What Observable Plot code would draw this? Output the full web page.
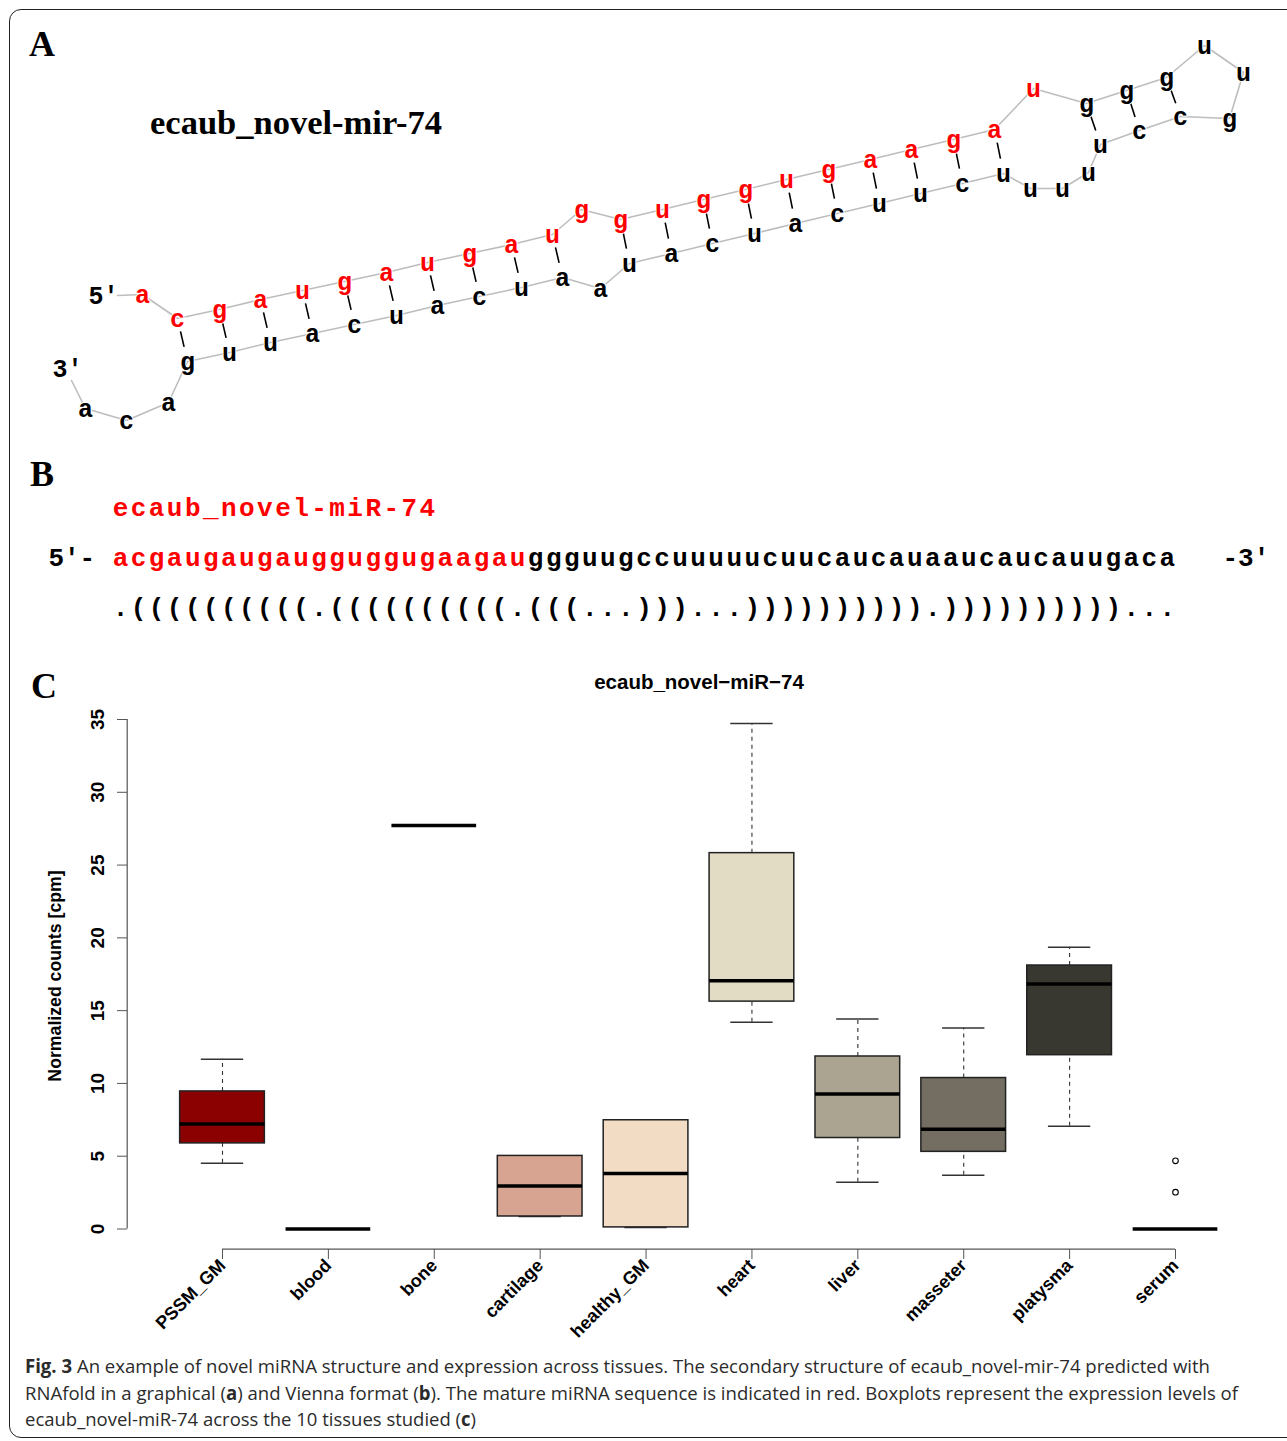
<!DOCTYPE html>
<html><head><meta charset="utf-8">
<script src="https://cdn.jsdelivr.net/npm/d3@7"></script>
<script src="https://cdn.jsdelivr.net/npm/@observablehq/plot@0.6"></script>
<style>
body{margin:0;background:#fff;}
#page{position:relative;width:1287px;height:1441px;overflow:hidden;background:#fff;}
#frame{position:absolute;left:9px;top:9px;width:1320px;height:1429px;border:1.5px solid #222;border-radius:12px;box-sizing:border-box;}
.panel{position:absolute;left:0;}
.lab{position:absolute;font-family:"Liberation Serif","Times New Roman",serif;font-weight:bold;font-size:36px;color:#000;line-height:1;}
#titleA{position:absolute;left:150px;top:105px;font-family:"Liberation Serif","Times New Roman",serif;font-weight:bold;font-size:34.5px;line-height:1;color:#000;}
#caption{position:absolute;left:25px;top:1353px;font-family:"Open Sans",sans-serif;font-size:19px;color:#2b2b2b;line-height:26.5px;}
#caption div{white-space:nowrap;transform-origin:0 0;width:max-content;}
</style></head><body>
<div id="page">
  <div id="frame"></div>
  <div id="panelA" class="panel" style="top:0"></div>
  <div id="panelB" class="panel" style="top:480px"></div>
  <div id="panelC" class="panel" style="top:640px"></div>
  <div class="lab" style="left:29px;top:26px">A</div>
  <div class="lab" style="left:30px;top:456px">B</div>
  <div class="lab" style="left:31px;top:668px">C</div>
  <div id="titleA">ecaub_novel-mir-74</div>
  <div id="caption">
    <div id="cap1"><b>Fig. 3</b> An example of novel miRNA structure and expression across tissues. The secondary structure of ecaub_novel-mir-74 predicted with</div>
    <div id="cap2">RNAfold in a graphical (<b>a</b>) and Vienna format (<b>b</b>). The mature miRNA sequence is indicated in red. Boxplots represent the expression levels of</div>
    <div id="cap3">ecaub_novel-miR-74 across the 10 tissues studied (<b>c</b>)</div>
  </div>
</div>
<script>
// ---------------- DATA ----------------
const precursorName = "ecaub_novel-mir-74";
const matureName = "ecaub_novel-miR-74";
const sequence = "acgaugaugaugguggugaagau" + "ggguugccuuuuucuucaucauaaucaucauugaca";
const matureLength = 23;
const structure = "." + "((((((((((" + "." + "((((((((((" + "." + "(((...)))" + "..." + "))))))))))" + "." + "))))))))))" + "...";
const fivePrimeLabel = "5'-";
const threePrimeLabel = "-3'";

// RNAfold drawing layout (nucleotide positions)
const ntX = [142,177,219,260,302,344,386,427,469,511,552,581,620,662,703,745,786,828,870,911,953,994,1033,1086,1126,1166,1204,1243,1229,1180,1139,1100,1088,1062,1030,1003,962,920,879,837,795,754,712,671,629,600,562,521,479,437,396,354,312,270,229,187,168,126,85];
const ntY = [294,318,309,299,290,281,272,262,253,244,234,209,219,209,199,189,179,169,159,149,139,129,88,103,90,77,45,72,118,116,130,144,172,188,188,173,183,193,203,213,223,233,243,253,263,288,277,287,296,305,315,324,333,342,352,361,402,420,408];
const endLabels = ["5'", "3'"];
const endLabelX = [103, 67];
const endLabelY = [295, 368];

// Boxplot statistics (cpm)
const tissues = ["PSSM_GM","blood","bone","cartilage","healthy_GM","heart","liver","masseter","platysma","serum"];
const tissueColors = ["#8B0000","#B5524A","#C98B78","#D6A491","#F2DCC3","#E1DCC3","#AAA490","#736E61","#393830","#1E1E1A"];
const whiskerLow  = [4.52, 0, 27.72, 0.86, 0.11, 14.2, 3.22, 3.70, 7.05, 0];
const q1          = [5.88, 0, 27.72, 0.86, 0.11, 15.62, 6.25, 5.30, 11.94, 0];
const median      = [7.21, 0, 27.72, 2.95, 3.81, 17.05, 9.27, 6.85, 16.83, 0];
const q3          = [9.45, 0, 27.72, 5.02, 7.47, 25.82, 11.85, 10.37, 18.10, 0];
const whiskerHigh = [11.66, 0, 27.72, 5.02, 7.47, 34.73, 14.43, 13.81, 19.36, 0];
const outlierTissue = ["serum", "serum"];
const outlierValue  = [4.68, 2.53];
const yTicks = [0, 5, 10, 15, 20, 25, 30, 35];
const chartTitle = "ecaub_novel\u2212miR\u221274";
const yLabel = "Normalized counts [cpm]";

// ---------------- PANEL A ----------------
const mono = "'Liberation Mono', 'DejaVu Sans Mono', monospace";
const nts = Array.from(sequence, (b, i) => ({b, i, x: ntX[i], y: ntY[i], mature: i < matureLength}));
const stack = [], pairs = [];
for (let i = 0; i < structure.length; i++) {
  if (structure[i] === "(") stack.push(i);
  else if (structure[i] === ")") pairs.push([stack.pop(), i]);
}
const pairSegs = pairs.map(([a, b]) => ({
  x1: ntX[a] + (ntX[b] - ntX[a]) * 0.3, y1: ntY[a] + (ntY[b] - ntY[a]) * 0.3,
  x2: ntX[a] + (ntX[b] - ntX[a]) * 0.66, y2: ntY[a] + (ntY[b] - ntY[a]) * 0.66
}));
const ends = endLabels.map((t, k) => ({t, x: endLabelX[k], y: endLabelY[k]}));
const backbone = [{x: ends[0].x + 14, y: ends[0].y}, ...nts, {x: ends[1].x + 4, y: ends[1].y + 12}];
const aFont = {fontSize: 25, fontWeight: "bold", fontFamily: mono};

const A = Plot.plot({
  width: 1287, height: 440, margin: 0,
  x: {domain: [0, 1287], range: [0, 1287], axis: null},
  y: {domain: [0, 440], range: [0, 440], axis: null},
  marks: [
    Plot.line(backbone, {x: "x", y: "y", stroke: "#bdbdbd", strokeWidth: 1.6}),
    Plot.link(pairSegs, {x1: "x1", y1: "y1", x2: "x2", y2: "y2", stroke: "#000", strokeWidth: 1.6}),
    Plot.text(nts.filter(d => d.mature), {x: "x", y: "y", text: "b", fill: "#ff0000", ...aFont, stroke: "white", strokeWidth: 2, paintOrder: "stroke"}),
    Plot.text(nts.filter(d => !d.mature), {x: "x", y: "y", text: "b", fill: "#000", ...aFont, stroke: "white", strokeWidth: 2, paintOrder: "stroke"}),
    Plot.text(ends, {x: "x", y: "y", text: "t", fill: "#000", ...aFont})
  ]
});
document.getElementById("panelA").appendChild(A);

// ---------------- PANEL B ----------------
const nameChars = Array.from(matureName, (c, i) => ({c, i, row: "name"}));
const seqChars = Array.from(sequence, (c, i) => ({c, i, row: "seq", mature: i < matureLength}));
const structChars = Array.from(structure, (c, i) => ({c, i, row: "struct"}));
const endsB = [
  {t: fivePrimeLabel, i: -1.4, row: "seq", anchor: "end"},
  {t: threePrimeLabel, i: sequence.length + 2.05, row: "seq", anchor: "start"}
];
const bFont = {fontSize: 26, fontWeight: "bold", fontFamily: mono};
const B = Plot.plot({
  width: 1287, height: 150, margin: 0,
  x: {domain: [0, sequence.length - 1], range: [120, 120 + (sequence.length - 1) * 18.05], axis: null},
  y: {type: "point", domain: ["name", "seq", "struct"], range: [26, 127], padding: 0, axis: null},
  marks: [
    Plot.text(nameChars, {x: "i", y: "row", text: "c", fill: "#ff0000", ...bFont}),
    Plot.text(seqChars.filter(d => d.mature), {x: "i", y: "row", text: "c", fill: "#ff0000", ...bFont}),
    Plot.text(seqChars.filter(d => !d.mature), {x: "i", y: "row", text: "c", fill: "#000", ...bFont}),
    Plot.text(structChars, {x: "i", y: "row", text: "c", fill: "#000", ...bFont}),
    Plot.text(endsB.filter(d => d.anchor === "end"), {x: "i", y: "row", text: "t", textAnchor: "end", fill: "#000", ...bFont}),
    Plot.text(endsB.filter(d => d.anchor === "start"), {x: "i", y: "row", text: "t", textAnchor: "start", fill: "#000", ...bFont})
  ]
});
document.getElementById("panelB").appendChild(B);

// ---------------- PANEL C ----------------
const n = tissues.length;
const xlim = [0.5 - 0.04 * n, n + 0.5 + 0.04 * n];
const allVals = [...whiskerLow, ...whiskerHigh, ...outlierValue];
const yMin = d3.min(allVals), yMax = d3.max(allVals);
const ylimLow = yMin - 0.04 * (yMax - yMin);
const boxes = tissues.map((t, k) => ({
  t, pos: k + 1, color: tissueColors[k],
  lo: whiskerLow[k], q1: q1[k], med: median[k], q3: q3[k], hi: whiskerHigh[k]
}));
const hasSpread = boxes.filter(d => d.hi > d.lo);
const outliers = outlierTissue.map((t, k) => ({pos: tissues.indexOf(t) + 1, v: outlierValue[k]}));
const sans = "'Liberation Sans', Arial, Helvetica, sans-serif";

const C = Plot.plot({
  width: 1287, height: 710,
  marginLeft: 127, marginRight: 17, marginTop: 0, marginBottom: 101,
  x: {domain: [1, n], range: [222, 1175], axis: null},
  y: {domain: [0, 35], range: [588.5, 79], axis: null},
  style: {fontFamily: sans, color: "#000"},
  marks: [
    Plot.ruleX([xlim[0]], {y1: 0, y2: d3.max(yTicks), stroke: "#555", strokeWidth: 1.2}),
    Plot.ruleY([ylimLow], {x1: 1, x2: n, stroke: "#555", strokeWidth: 1.2}),
    Plot.axisY(yTicks, {anchor: "left", tickSize: 10, tickPadding: 14, tickRotate: -90, fontSize: 19, fontWeight: "bold", stroke: "#555", label: null}),
    Plot.axisX(d3.range(1, n + 1), {anchor: "bottom", tickSize: 10, tickPadding: 3, tickRotate: -45, fontSize: 18, fontWeight: "bold", stroke: "#555", tickFormat: i => tissues[i - 1], label: null}),
    // whiskers
    Plot.ruleX(hasSpread, {x: "pos", y1: "q3", y2: "hi", stroke: "#333", strokeWidth: 1.1, strokeDasharray: "4,4"}),
    Plot.ruleX(hasSpread, {x: "pos", y1: "lo", y2: "q1", stroke: "#333", strokeWidth: 1.1, strokeDasharray: "4,4"}),
    Plot.ruleY(hasSpread, {y: "hi", x1: d => d.pos - 0.2, x2: d => d.pos + 0.2, stroke: "#333", strokeWidth: 1.5}),
    Plot.ruleY(hasSpread, {y: "lo", x1: d => d.pos - 0.2, x2: d => d.pos + 0.2, stroke: "#333", strokeWidth: 1.5}),
    // boxes
    Plot.rect(hasSpread, {x1: d => d.pos - 0.4, x2: d => d.pos + 0.4, y1: "q1", y2: "q3", fill: "color", stroke: "#222", strokeWidth: 1.5}),
    // medians
    Plot.ruleY(boxes, {y: "med", x1: d => d.pos - 0.4, x2: d => d.pos + 0.4, stroke: "#000", strokeWidth: 3.5}),
    // outliers
    Plot.dot(outliers, {x: "pos", y: "v", r: 2.8, stroke: "#000", fill: "none", strokeWidth: 1.1}),
    // title and y label
    Plot.text([chartTitle], {frameAnchor: "top", dy: 34, text: d => d, fontSize: 20.5, fontWeight: "bold", fontFamily: sans}),
    Plot.text([yLabel], {frameAnchor: "left", textAnchor: "middle", rotate: -90, dx: -72, dy: 31, text: d => d, fontSize: 17.7, fontWeight: "bold", fontFamily: sans})
  ]
});
document.getElementById("panelC").appendChild(C);

// caption line fitting
const capTargets = {cap1: 1185, cap2: 1213, cap3: 451};
for (const [id, w] of Object.entries(capTargets)) {
  const el = document.getElementById(id);
  const cw = el.getBoundingClientRect().width;
  if (cw > 0) el.style.transform = `scaleX(${w / cw})`;
}
</script>
</body></html>
